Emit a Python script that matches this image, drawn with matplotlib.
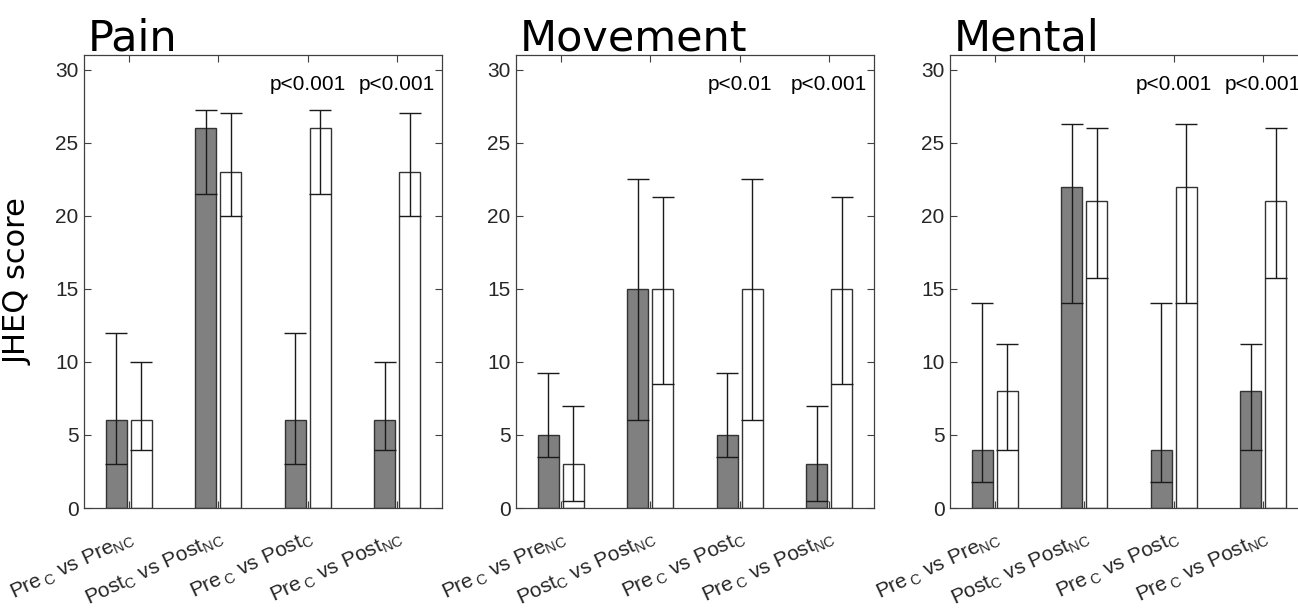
import matplotlib.pyplot as plt
import numpy as np

plt.rcParams['mathtext.fontset'] = 'custom'
plt.rcParams['mathtext.rm'] = 'Liberation Sans'
plt.rcParams['mathtext.it'] = 'Liberation Sans'
plt.rcParams['mathtext.default'] = 'regular'

groups = [r'Pre$\,_C$ vs Pre$_{NC}$', r'Post$_C$ vs Post$_{NC}$',
          r'Pre$\,_C$ vs Post$_C$', r'Pre$\,_C$ vs Post$_{NC}$']

titles = ['Pain', 'Movement', 'Mental']

# gray bars (left of each pair)
pain_gray = [6, 26, 6, 6]
pain_gray_lo = [3, 21.5, 3, 4]
pain_gray_hi = [12, 27.25, 12, 10]
move_gray = [5, 15, 5, 3]
move_gray_lo = [3.5, 6, 3.5, 0.5]
move_gray_hi = [9.25, 22.5, 9.25, 7]
mental_gray = [4, 22, 4, 8]
mental_gray_lo = [1.75, 14, 1.75, 4]
mental_gray_hi = [14, 26.25, 14, 11.25]

# white bars (right of each pair)
pain_white = [6, 23, 26, 23]
pain_white_lo = [4, 20, 21.5, 20]
pain_white_hi = [10, 27, 27.25, 27]
move_white = [3, 15, 15, 15]
move_white_lo = [0.5, 8.5, 6, 8.5]
move_white_hi = [7, 21.25, 22.5, 21.25]
mental_white = [8, 21, 22, 21]
mental_white_lo = [4, 15.75, 14, 15.75]
mental_white_hi = [11.25, 26, 26.25, 26]

pain_p = ['', '', 'p<0.001', 'p<0.001']
move_p = ['', '', 'p<0.01', 'p<0.001']
mental_p = ['', '', 'p<0.001', 'p<0.001']

panels = [
    (pain_gray, pain_gray_lo, pain_gray_hi, pain_white, pain_white_lo, pain_white_hi, pain_p),
    (move_gray, move_gray_lo, move_gray_hi, move_white, move_white_lo, move_white_hi, move_p),
    (mental_gray, mental_gray_lo, mental_gray_hi, mental_white, mental_white_lo, mental_white_hi, mental_p),
]

fig = plt.figure(figsize=(12.98, 6.13), dpi=100)
lefts = [84, 516, 950]
W, H = 1298.0, 613.0

x = np.arange(1, 5)
bw = 0.235
off = 0.14
tick_col = '#262626'
edge = '#333333'

for i, (g, glo, ghi, w, wlo, whi, pv) in enumerate(panels):
    ax = fig.add_axes([lefts[i] / W, 105 / H, 358 / W, 453 / H])
    g = np.array(g); glo = np.array(glo); ghi = np.array(ghi)
    w = np.array(w); wlo = np.array(wlo); whi = np.array(whi)
    ax.bar(x - off, g, bw, color='#808080', edgecolor=edge, linewidth=1.0, zorder=2)
    ax.bar(x + off, w, bw, color='white', edgecolor=edge, linewidth=1.0, zorder=2)
    ax.errorbar(x - off, g, yerr=[g - glo, ghi - g], fmt='none', ecolor='#1a1a1a',
                elinewidth=1.0, capsize=8, capthick=1.0, zorder=3)
    ax.errorbar(x + off, w, yerr=[w - wlo, whi - w], fmt='none', ecolor='#1a1a1a',
                elinewidth=1.0, capsize=8, capthick=1.0, zorder=3)
    for k in range(4):
        if pv[k]:
            ax.text(x[k], 29, pv[k], ha='center', va='center', fontsize=15,
                    family='Liberation Sans', color='black')
    ax.set_xlim(0.5, 4.5)
    ax.set_ylim(0, 31)
    ax.set_yticks(range(0, 31, 5))
    ax.set_xticks(x)
    ax.set_xticklabels(groups, rotation=25, ha='right', va='top',
                       rotation_mode='anchor', fontsize=15, family='Liberation Sans',
                       color=tick_col)
    for lab in ax.get_yticklabels():
        lab.set_fontfamily('Liberation Sans')
        lab.set_fontsize(15)
        lab.set_color(tick_col)
    ax.tick_params(direction='in', top=True, right=True, length=5, width=0.8,
                   color='#404040')
    ax.tick_params(axis='y', pad=4)
    ax.tick_params(axis='x', pad=14)
    for s in ax.spines.values():
        s.set_color('#404040')
        s.set_linewidth(0.9)
    ax.set_title(titles[i], loc='left', fontsize=31, family='DejaVu Sans',
                 color='black', pad=3, x=0.01)
    if i == 0:
        ax.set_ylabel('JHEQ score', fontsize=22, family='DejaVu Sans', color='black')
        ax.yaxis.set_label_coords(-0.145, 0.5)

plt.savefig('out.png', dpi=100)
plt.close()
